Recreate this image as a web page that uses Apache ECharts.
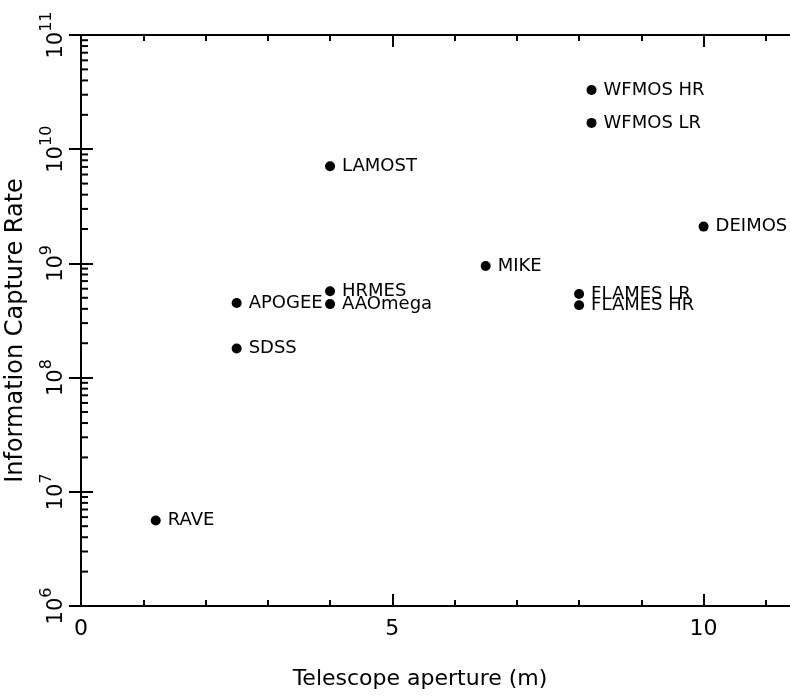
<!DOCTYPE html>
<html>
<head>
<meta charset="utf-8">
<script src="https://cdn.jsdelivr.net/npm/echarts@6/dist/echarts.min.js"></script>
<style>
  html, body { margin: 0; padding: 0; background: #fff; }
  #captureChart { width: 790px; height: 696px; }
</style>
</head>
<body>
<div id="captureChart"></div>
<script>
// instruments
var names = ['RAVE', 'SDSS', 'APOGEE', 'HRMES', 'AAOmega', 'LAMOST', 'MIKE',
             'FLAMES LR', 'FLAMES HR', 'WFMOS HR', 'WFMOS LR', 'DEIMOS'];
var aperture = [1.2, 2.5, 2.5, 4.0, 4.0, 4.0, 6.5, 8.0, 8.0, 8.2, 8.2, 10.0];
var captureRate = [5.6e6, 1.8e8, 4.5e8, 5.7e8, 4.4e8, 7.1e9, 9.5e8, 5.4e8, 4.3e8, 3.3e10, 1.7e10, 2.1e9];

// axis ticks
var decades = [1e6, 1e7, 1e8, 1e9, 1e10];
var minorSteps = [2, 3, 4, 5, 6, 7, 8, 9];

var FONT = 'DejaVu Sans';
var X_MAX = 11.5;

var minorTicks = [];
for (var i = 0; i < decades.length; i++) {
	for (var j = 0; j < minorSteps.length; j++) {
		minorTicks.push([0, decades[i] * minorSteps[j]]);
	}
}

var points = [];
for (var k = 0; k < names.length; k++) {
	points.push([aperture[k], captureRate[k], names[k]]);
}

var tickStyle = { color: '#000', width: 2 };

function xAxisOf(position, interval, tickLen, withLabel) {
	return {
		type: 'value',
		position: position,
		min: 0,
		max: X_MAX,
		interval: interval,
		gridIndex: 0,
		axisLine: { show: tickLen > 10, lineStyle: { color: '#000', width: 2 } },
		axisTick: { show: true, inside: true, length: tickLen, lineStyle: tickStyle },
		axisLabel: withLabel ? {
			show: true,
			showMaxLabel: false,
			margin: 12,
			color: '#000',
			fontFamily: FONT,
			fontSize: 22
		} : { show: false },
		splitLine: { show: false }
	};
}

function yAxisOf(position, withLabel) {
	var axis = {
		type: 'log',
		logBase: 10,
		position: position,
		min: 1e6,
		max: 1e11,
		gridIndex: 0,
		axisLine: { show: true, lineStyle: { color: '#000', width: 2 } },
		axisTick: { show: true, inside: true, length: 12, lineStyle: tickStyle },
		axisLabel: { show: false },
		splitLine: { show: false }
	};
	if (withLabel) {
		axis.axisLabel = {
			show: true,
			rotate: 90,
			margin: 14,
			color: '#000',
			formatter: function (v) {
				var e = Math.round(Math.log(v) / Math.LN10);
				return '{b|10}{s|' + e + '}';
			},
			rich: {
				b: { fontFamily: FONT, fontSize: 21, color: '#000', padding: [10, 0, 0, 0] },
				s: { fontFamily: FONT, fontSize: 16, color: '#000', padding: [0, 0, 10, 0] }
			}
		};
	}
	return axis;
}

// short log ticks (2..9 per decade) on both vertical edges
function renderMinorTick(params, api) {
	var v = api.value(1);
	var l = api.coord([0, v]);
	var r = api.coord([X_MAX, v]);
	var st = { stroke: '#000', lineWidth: 2 };
	return {
		type: 'group',
		children: [
			{ type: 'line', shape: { x1: l[0], y1: l[1], x2: l[0] + 7, y2: l[1] }, style: st },
			{ type: 'line', shape: { x1: r[0] - 7, y1: r[1], x2: r[0], y2: r[1] }, style: st }
		]
	};
}

var bottomAxis = xAxisOf('bottom', 5, 12, true);
bottomAxis.name = 'Telescope aperture (m)';
bottomAxis.nameLocation = 'middle';
bottomAxis.nameGap = 62;
bottomAxis.nameTextStyle = { color: '#000', fontFamily: FONT, fontSize: 22, padding: [0, 38, 0, 0] };

var leftAxis = yAxisOf('left', true);
leftAxis.name = 'Information Capture Rate';
leftAxis.nameLocation = 'middle';
leftAxis.nameGap = 53;
leftAxis.nameTextStyle = { color: '#000', fontFamily: FONT, fontSize: 24, padding: [0, 20, 0, 0] };

var option = {
	backgroundColor: '#fff',
	animation: false,
	grid: { left: 81, top: 35, right: -7, bottom: 90, outerBoundsMode: 'none', containLabel: false },
	xAxis: [
		bottomAxis,
		xAxisOf('bottom', 1, 6, false),
		xAxisOf('top', 5, 12, false),
		xAxisOf('top', 1, 6, false)
	],
	yAxis: [
		leftAxis,
		yAxisOf('right', false)
	],
	series: [{
		type: 'custom',
		xAxisIndex: 0,
		yAxisIndex: 0,
		silent: true,
		clip: false,
		renderItem: renderMinorTick,
		data: minorTicks
	}, {
		type: 'scatter',
		xAxisIndex: 0,
		yAxisIndex: 0,
		symbol: 'circle',
		symbolSize: 10,
		itemStyle: { color: '#000', opacity: 1 },
		data: points,
		label: {
			show: true,
			position: 'right',
			distance: 7,
			color: '#000',
			fontFamily: FONT,
			fontSize: 18,
			formatter: function (p) { return p.data[2]; }
		}
	}]
};

var myChart = echarts.init(document.getElementById('captureChart'));
myChart.setOption(option);
</script>
</body>
</html>
